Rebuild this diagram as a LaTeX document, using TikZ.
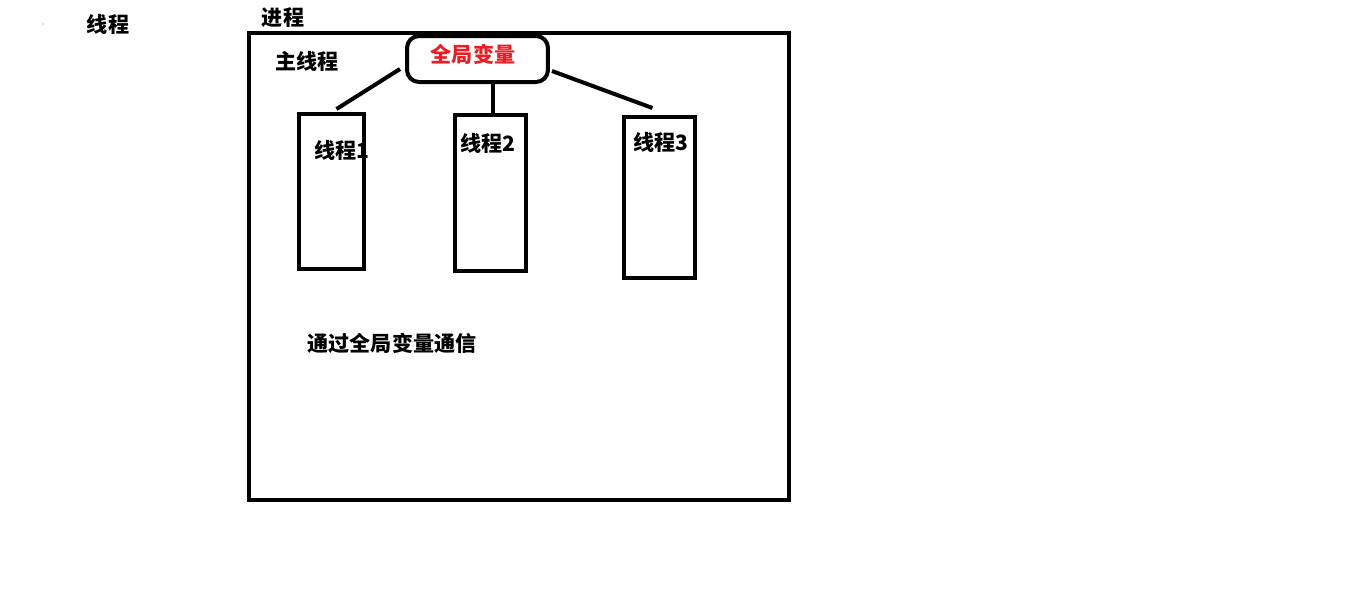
\documentclass[tikz,border=0pt]{standalone}
\usepackage{fontspec}
\newfontfamily\cjk{Noto Sans CJK SC}
\definecolor{glred}{RGB}{237,28,36}
\begin{document}
\begin{tikzpicture}[x=0.02cm,y=-0.02cm,
    thickline/.style={line width=0.08cm},
    thread/.style={draw,thickline,inner sep=0pt},
    lbl/.style={font=\cjk\bfseries\fontsize{12pt}{14pt}\selectfont,inner sep=0pt}]
    \useasboundingbox (0,0) rectangle (1358,600);
    % process box
    \draw[thickline] (249,32.5) rectangle (789,499.5);
    \fill[gray] (43,24) circle (0.012cm);
    \node[lbl] (thr) at (108,24) {线程};
    \node[lbl] (proc) at (283,18) {进程};
    \node[lbl] (main) at (307,61) {主线程};
    % global variable
    \node[thread,rounded corners=0.24cm,minimum width=2.82cm,minimum height=0.92cm] (glob) at (477.5,59) {};
    \node[lbl,text=glred] (globlbl) at (473,54) {全局变量};
    % threads
    \node[thread,minimum width=1.3cm,minimum height=3.1cm] (t1) at (331.5,191.5) {};
    \node[thread,minimum width=1.42cm,minimum height=3.12cm] (t2) at (490.5,193) {};
    \node[thread,minimum width=1.42cm,minimum height=3.22cm] (t3) at (659.5,197.5) {};
    \node[lbl] (t1lbl) at (342,150) {线程1};
    \node[lbl] (t2lbl) at (488,143) {线程2};
    \node[lbl] (t3lbl) at (661,142) {线程3};
    \draw[thickline] ([shift={(-5,10)}]glob.west) -- ([shift={(5,-3)}]t1.north);
    \draw[thickline] (t2.north -| 493,0) -- (glob.south -| 493,0);
    \draw[thickline] ([shift={(2,12)}]glob.east) -- ([shift={(-7,-7)}]t3.north);
    \node[lbl] (note) at (392,343) {通过全局变量通信};
\end{tikzpicture}
\end{document}
